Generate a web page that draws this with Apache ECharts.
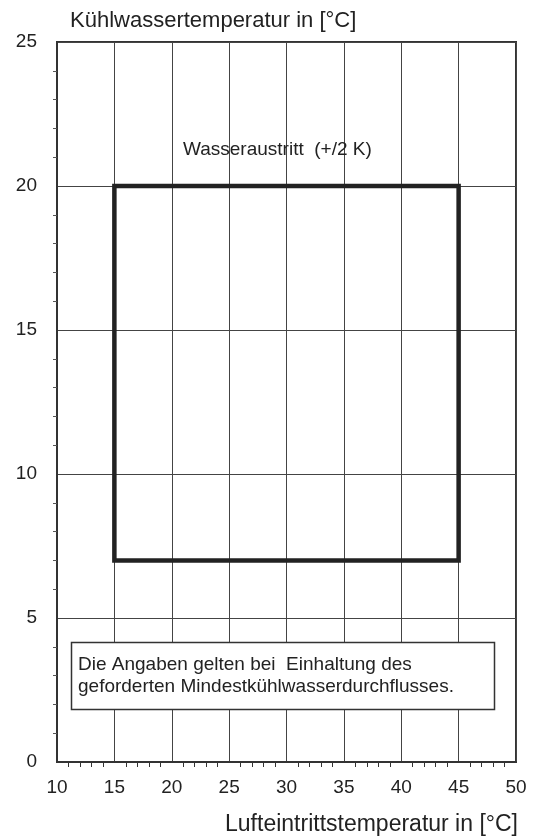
<!DOCTYPE html>
<html>
<head>
<meta charset="utf-8">
<script src="https://cdn.jsdelivr.net/npm/echarts@6/dist/echarts.min.js"></script>
<style>
  html, body { margin: 0; padding: 0; background: #fff; }
  #chart { width: 535px; height: 838px; }
</style>
</head>
<body>
<div id="chart"></div>
<script>
// Axis ranges and ticks
const xTicks = [10, 15, 20, 25, 30, 35, 40, 45, 50];
const yTicks = [0, 5, 10, 15, 20, 25];

// Operating envelope: air inlet temperature (x) and cooling water temperature (y)
const airInletRange = [15, 45];
const coolingWaterRange = [7, 20];

// Texts
const yAxisTitle = 'Kühlwassertemperatur in [°C]';
const xAxisTitle = 'Lufteintrittstemperatur in [°C]';
const envelopeLabel = 'Wasseraustritt  (+/2 K)';
const noteLines = ['Die Angaben gelten bei  Einhaltung des', 'geforderten Mindestkühlwasserdurchflusses.'];

// Closed outline of the envelope
const envelope = [
  [airInletRange[0], coolingWaterRange[0]],
  [airInletRange[0], coolingWaterRange[1]],
  [airInletRange[1], coolingWaterRange[1]],
  [airInletRange[1], coolingWaterRange[0]],
  [airInletRange[0], coolingWaterRange[0]]
];

const fontFamily = '"Liberation Sans", Arial, sans-serif';
const ink = '#222';
const font = (size) => size + 'px ' + fontFamily;

const chart = echarts.init(document.getElementById('chart'), null, { renderer: 'canvas' });

chart.setOption({
  animation: false,
  backgroundColor: '#fff',
  grid: {
    left: 57, right: 19, top: 42, bottom: 76,
    show: true, borderColor: '#333', borderWidth: 2, backgroundColor: 'transparent'
  },
  xAxis: {
    type: 'value',
    min: xTicks[0], max: xTicks[xTicks.length - 1], interval: 5,
    axisLine: { show: true, onZero: false, lineStyle: { color: '#333', width: 2 } },
    axisTick: { show: false },
    minorTick: { show: true, splitNumber: 5, length: 5, lineStyle: { color: '#333', width: 1 } },
    axisLabel: { margin: 16, color: ink, fontSize: 19, fontFamily: fontFamily },
    splitLine: { show: true, lineStyle: { color: '#444', width: 1 } }
  },
  yAxis: {
    type: 'value',
    min: yTicks[0], max: yTicks[yTicks.length - 1], interval: 5,
    axisLine: { show: true, onZero: false, lineStyle: { color: '#333', width: 2 } },
    axisTick: { show: false },
    minorTick: { show: true, splitNumber: 5, length: 4, lineStyle: { color: '#555', width: 1 } },
    axisLabel: { margin: 20, color: ink, fontSize: 19, fontFamily: fontFamily },
    splitLine: { show: true, lineStyle: { color: '#444', width: 1 } }
  },
  series: [{
    type: 'line',
    data: envelope,
    symbol: 'none',
    silent: true,
    lineStyle: { color: '#222', width: 4.5, join: 'miter', cap: 'square' },
    z: 5
  }],
  graphic: [
    {
      type: 'text', x: 70, y: 21, z: 10,
      style: { text: yAxisTitle, fill: ink, font: font(22), align: 'left', verticalAlign: 'middle' }
    },
    {
      type: 'text', x: 518, y: 825, z: 10,
      style: { text: xAxisTitle, fill: ink, font: font(23), align: 'right', verticalAlign: 'middle' }
    },
    {
      type: 'text', x: 183, y: 150, z: 10,
      style: { text: envelopeLabel, fill: ink, font: font(19), align: 'left', verticalAlign: 'middle' }
    },
    {
      type: 'rect', z: 10,
      shape: { x: 71.5, y: 642.5, width: 423, height: 67 },
      style: { fill: '#fff', stroke: '#333', lineWidth: 1.5 }
    },
    {
      type: 'text', x: 78, y: 665, z: 11,
      style: { text: noteLines[0], fill: ink, font: font(19), align: 'left', verticalAlign: 'middle' }
    },
    {
      type: 'text', x: 78, y: 687, z: 11,
      style: { text: noteLines[1], fill: ink, font: font(19), align: 'left', verticalAlign: 'middle' }
    }
  ]
});
</script>
</body>
</html>
